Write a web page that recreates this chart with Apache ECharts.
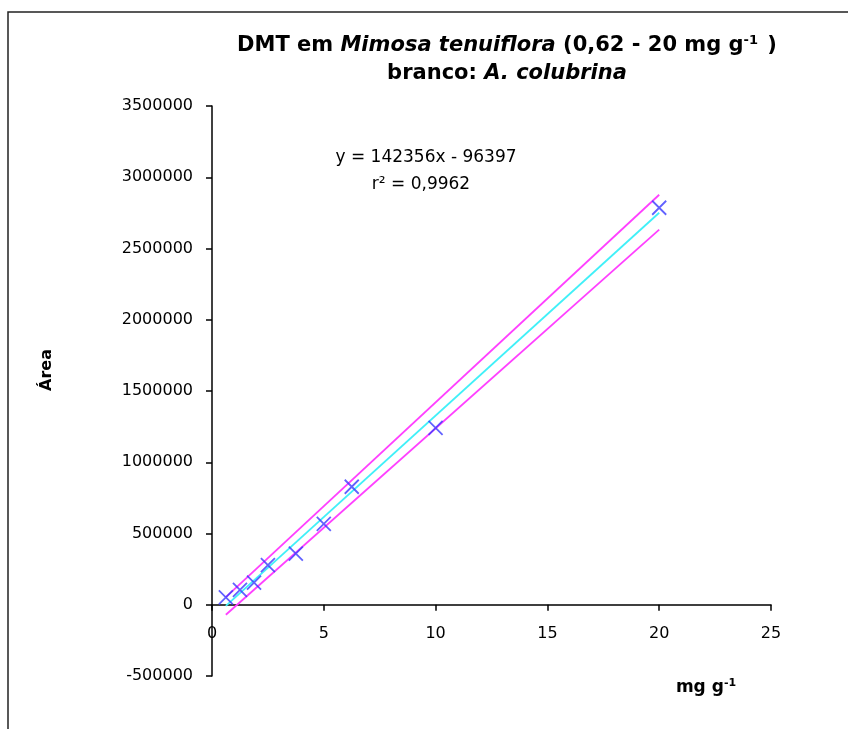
<!DOCTYPE html>
<html>
<head>
<meta charset="utf-8">
<script src="https://cdn.jsdelivr.net/npm/echarts@6/dist/echarts.min.js"></script>
<style>
html,body{margin:0;padding:0;background:#fff;}
#c{width:848px;height:729px;}
</style>
</head>
<body>
<div id="c"></div>
<script>
// Data
var concX = [0.62, 1.25, 1.88, 2.5, 3.75, 5, 6.25, 10, 20];
var areaY = [52000, 105000, 155000, 278000, 358000, 568000, 828000, 1242000, 2786000];
var fitX = [0.62, 20];
var fitY = [-8138, 2750723];
var upperY = [54000, 2877000];
var lowerY = [-70000, 2632000];
var xTicks = [0, 5, 10, 15, 20, 25];
var yTicks = [-500000, 0, 500000, 1000000, 1500000, 2000000, 2500000, 3000000, 3500000];

function pairs(xs, ys) { return xs.map(function (x, i) { return [x, ys[i]]; }); }

var chart = echarts.init(document.getElementById('c'), null, { renderer: 'canvas' });
var FONT = '"DejaVu Sans", Arial, sans-serif';

chart.setOption({
  animation: false,
  backgroundColor: '#fff',
  grid: { left: 212, top: 106, width: 559, height: 570, containLabel: false },
  xAxis: {
    type: 'value', min: xTicks[0], max: xTicks[xTicks.length - 1], interval: 5,
    axisLine: { onZero: true, lineStyle: { color: '#000', width: 1.5 } },
    axisTick: { show: true, length: 6, lineStyle: { color: '#000', width: 1.5 } },
    axisLabel: { color: '#000', fontFamily: FONT, fontSize: 16, margin: -50 },
    splitLine: { show: false }
  },
  yAxis: {
    type: 'value', min: yTicks[0], max: yTicks[yTicks.length - 1], interval: 500000,
    axisLine: { show: true, onZero: false, lineStyle: { color: '#000', width: 1.5 } },
    axisTick: { show: true, length: 6, lineStyle: { color: '#000', width: 1.5 } },
    axisLabel: { color: '#000', fontFamily: FONT, fontSize: 16, margin: 19, formatter: function (v) { return String(v); } },
    splitLine: { show: false }
  },
  series: [
    { type: 'line', data: pairs(fitX, upperY), symbol: 'none', lineStyle: { color: '#ff40ff', width: 1.8 }, z: 2 },
    { type: 'line', data: pairs(fitX, lowerY), symbol: 'none', lineStyle: { color: '#ff40ff', width: 1.8 }, z: 2 },
    { type: 'line', data: pairs(fitX, fitY), symbol: 'none', lineStyle: { color: '#40f0f8', width: 1.8 }, z: 3 },
    {
      type: 'scatter', data: pairs(concX, areaY),
      symbol: 'path://M0,0L10,10M10,0L0,10', symbolSize: 14,
      itemStyle: { color: 'rgba(0,0,0,0)', borderColor: '#3a3aff', borderWidth: 1.8 },
      z: 4
    }
  ],
  graphic: [
    { type: 'rect', shape: { x: 8, y: 12, width: 860, height: 740 }, style: { fill: 'none', stroke: '#222', lineWidth: 1.5 }, silent: true },
    {
      type: 'text', x: 507, y: 46,
      style: {
        text: '{b|DMT em }{bi|Mimosa tenuiflora}{b| (0,62 - 20 mg g}{sup|-1}{b| )}',
        align: 'center', verticalAlign: 'middle',
        rich: {
          b: { font: 'bold 21px ' + FONT, fill: '#000' },
          bi: { font: 'italic bold 21px ' + FONT, fill: '#000' },
          sup: { font: 'bold 13px ' + FONT, fill: '#000', padding: [0, 2, 10, 0] }
        }
      }
    },
    {
      type: 'text', x: 507, y: 74,
      style: {
        text: '{b|branco: }{bi|A. colubrina}',
        align: 'center', verticalAlign: 'middle',
        rich: {
          b: { font: 'bold 21px ' + FONT, fill: '#000' },
          bi: { font: 'italic bold 21px ' + FONT, fill: '#000' }
        }
      }
    },
    { type: 'text', x: 426, y: 158, style: { text: 'y = 142356x - 96397', font: '17px ' + FONT, fill: '#000', align: 'center', verticalAlign: 'middle' } },
    { type: 'text', x: 421, y: 185, style: { text: 'r\u00b2 = 0,9962', font: '17px ' + FONT, fill: '#000', align: 'center', verticalAlign: 'middle' } },
    { type: 'text', x: 47, y: 370, rotation: Math.PI / 2, style: { text: '\u00c1rea', font: 'bold 16px ' + FONT, fill: '#000', align: 'center', verticalAlign: 'middle' } },
    {
      type: 'text', x: 706, y: 688,
      style: {
        text: '{b|mg g}{sup|-1}',
        align: 'center', verticalAlign: 'middle',
        rich: {
          b: { font: 'bold 17px ' + FONT, fill: '#000' },
          sup: { font: 'bold 11px ' + FONT, fill: '#000', padding: [0, 0, 9, 0] }
        }
      }
    }
  ]
});
</script>
</body>
</html>
